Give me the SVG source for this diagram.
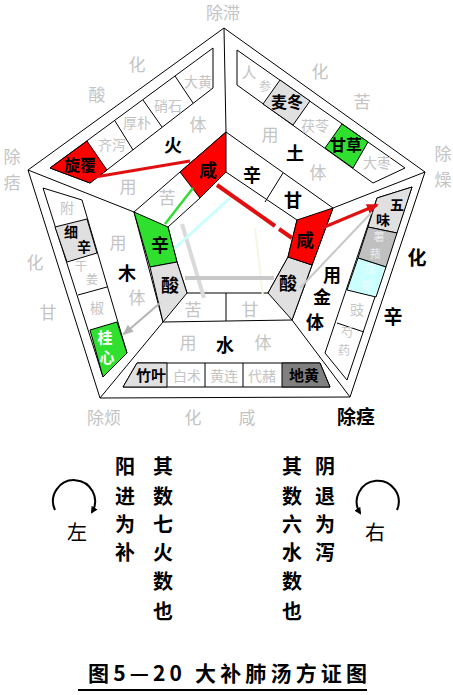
<svg xmlns="http://www.w3.org/2000/svg" width="453" height="695" viewBox="0 0 453 695">
<style>
text{font-family:"Noto Sans CJK SC","Noto Sans",sans-serif;text-anchor:middle}
.k{fill:#000;font-weight:700}
.g{fill:#c4c4c4}
.w{fill:#fff;font-weight:700}
.s11{font-size:11px}.s12{font-size:12px}.s13{font-size:13px}.s14{font-size:14px}.s15{font-size:15px}.s16{font-size:16px}.s17{font-size:17px}.s18{font-size:18px}.s19{font-size:19px}.s20{font-size:20px}
.ln{fill:none;stroke:#000;stroke-width:1}
.c{stroke:#000;stroke-width:1}
.red{fill:#ff0000}.grn{fill:#2fe02f}.lg{fill:#e0e0e0}.mg{fill:#c0c0c0}.dg{fill:#808080}.cy{fill:#ccffff}.wh{fill:#fff}
</style>
<defs>
<marker id="ar" markerWidth="12" markerHeight="10" refX="10" refY="5" orient="auto" markerUnits="userSpaceOnUse"><path d="M0,0 L12,5 L0,10 z" fill="#e01010"/></marker>
<marker id="ag" markerWidth="11" markerHeight="9" refX="9" refY="4.5" orient="auto" markerUnits="userSpaceOnUse"><path d="M0,0 L11,4.5 L0,9 z" fill="#b4b4b4"/></marker>
<marker id="ak" markerWidth="7" markerHeight="7" refX="5" refY="3.5" orient="auto" markerUnits="userSpaceOnUse"><path d="M0,0 L7,3.5 L0,7 z" fill="#000"/></marker>
</defs>
<rect width="453" height="695" fill="#fff"/>

<g id="frame">
<polygon class="ln" points="28,170 224,28 425,172 350,397 100,398"/>
<polygon class="ln" points="134,212 226,132 333,208 292,320 163,322"/>
<line class="ln" x1="224" y1="28" x2="226" y2="132"/>
<line class="ln" x1="28" y1="170" x2="134" y2="212"/>
<line class="ln" x1="425" y1="172" x2="333" y2="208"/>
<line class="ln" x1="350" y1="397" x2="292" y2="320"/>
<line class="ln" x1="100" y1="398" x2="163" y2="322"/>
</g>

<g id="fire">
<polygon class="ln" points="50,168 213,48 213,88 90,183"/>
<polygon class="c red" points="50,168 87,141 107,170 90,183"/>
<line class="ln" x1="115" y1="121" x2="133" y2="150"/>
<line class="ln" x1="143" y1="100" x2="162" y2="127"/>
<line class="ln" x1="175" y1="76" x2="193" y2="103"/>
<text class="k s16" x="80" y="170.5">旋覆</text>
<text class="g s14" x="112" y="150">齐泻</text>
<text class="g s14" x="137" y="128">厚朴</text>
<text class="g s14" x="168" y="111">硝石</text>
<text class="g s14" x="198" y="87">大黄</text>
<text class="k s18" x="173" y="151.5">火</text>
<text class="g s17" x="198" y="131">体</text>
<text class="g s17" x="128" y="193">用</text>
</g>

<g id="earth">
<polygon class="ln" points="237,50 405,168 373,183 237,85"/>
<polygon class="c lg" points="263,104 280,80 310,101 293,125"/>
<polygon class="c grn" points="325,148 342,124 368,142 353,168"/>
<text class="g s15"><tspan x="249" y="78">人</tspan><tspan class="s12" x="265" y="91">参</tspan></text>
<text class="k s16" x="287" y="107.5">麦冬</text>
<text class="g s14" x="315" y="131">茯苓</text>
<text class="k s16" x="346" y="150.5">甘草</text>
<text class="g s14" x="377" y="168">大枣</text>
<text class="k s18" x="295" y="159.5">土</text>
<text class="g s17" x="270" y="141">用</text>
<text class="g s17" x="318" y="179">体</text>
</g>

<g id="metal">
<polygon class="ln" points="377,198 412,187 347,380 325,353"/>
<polygon class="c lg" points="377,198 412,187 397,233 368,227"/>
<polygon class="c mg" points="368,227 397,233 386,267 358,258"/>
<polygon class="c cy" points="358,258 386,267 376,297 347,290"/>
<line class="ln" x1="337" y1="323" x2="364" y2="332"/>
<text class="k s14"><tspan x="397" y="210">五</tspan><tspan x="383" y="225">味</tspan></text>
<text class="s11" fill="#ececec"><tspan x="379" y="241">薯</tspan><tspan x="375" y="258">蓣</tspan></text>
<text class="s11" fill="#eefcfc"><tspan x="370" y="273">茯</tspan><tspan x="366" y="290">苓</tspan></text>
<text class="g s14" x="357" y="315">豉</text>
<text class="g s12"><tspan x="347" y="336.5">芍</tspan><tspan x="344" y="354.5">药</tspan></text>
<text class="k s18" x="332" y="281.5">用</text>
<text class="k s18" x="322" y="303.5">金</text>
<text class="k s18" x="315" y="328.5">体</text>
</g>

<g id="water">
<polygon class="ln" points="137,363 320,363 330,387 123,387"/>
<polygon class="c lg" points="137,363 167,363 167,387 123,387"/>
<polygon class="c dg" points="282,363 320,363 330,387 282,387"/>
<line class="ln" x1="205" y1="363" x2="205" y2="387"/>
<line class="ln" x1="243" y1="363" x2="243" y2="387"/>
<text class="k s15" x="151" y="381">竹叶</text>
<text class="g s14" x="187" y="381">白术</text>
<text class="g s14" x="224" y="381">黄连</text>
<text class="g s14" x="262" y="381">代赭</text>
<text class="k s15" x="304" y="381">地黄</text>
<text class="k s18" x="225" y="351.5">水</text>
<text class="g s17" x="188" y="349">用</text>
<text class="g s17" x="263" y="349">体</text>
</g>

<g id="wood">
<polygon class="ln" points="43,188 82,200 127,353 103,377"/>
<polygon class="c lg" points="55,227 87,219 97,253 67,262"/>
<polygon class="c grn" points="90,330 117,322 127,353 103,377"/>
<line class="ln" x1="78" y1="295" x2="107" y2="287"/>
<text class="g s14" x="67" y="213">附</text>
<text class="k s14"><tspan x="71" y="237">细</tspan><tspan x="84" y="252">辛</tspan></text>
<text class="g s12"><tspan x="81" y="271">干</tspan><tspan x="92" y="284">姜</tspan></text>
<text class="g s14" x="97" y="313">椒</text>
<text class="w s15"><tspan x="105" y="342.5">桂</tspan><tspan x="107" y="362.5">心</tspan></text>
<text class="k s18" x="127" y="279.5">木</text>
<text class="g s17" x="118" y="249">用</text>
<text class="g s17" x="137" y="304">体</text>
</g>

<g id="tastes">
<polygon class="ln" points="226,172 297,220 288,257 268,293 187,293 177,262 168,227 200,198"/>
<polygon class="c red" points="180,172 226,132 226,172 200,198"/>
<polygon class="c grn" points="134,212 168,227 177,262 150,267"/>
<polygon class="c lg" points="150,267 177,262 187,293 163,322"/>
<polygon class="c lg" points="268,293 288,257 312,265 292,320"/>
<polygon class="c red" points="288,257 297,220 333,208 312,265"/>
<line class="ln" x1="283" y1="173" x2="265" y2="202"/>
<line class="ln" x1="226" y1="293" x2="226" y2="321"/>
<text class="k s18" x="208" y="176.5">咸</text>
<text class="k s18" x="252" y="181.5">辛</text>
<text class="k s18" x="293" y="206.5">甘</text>
<text class="k s18" x="305" y="246.5">咸</text>
<text class="k s18" x="288" y="289.5">酸</text>
<text class="k s18" x="170" y="291.5">酸</text>
<text class="k s18" x="160" y="251.5">辛</text>
<text class="g s17" x="167" y="204">苦</text>
<text class="g s17" x="193" y="316">苦</text>
<text class="g s17" x="250" y="316">甘</text>
</g>

<g id="outer-labels">
<text class="g s17" x="223" y="19">除滞</text>
<text class="g s17" x="137" y="71">化</text>
<text class="g s17" x="97" y="101">酸</text>
<text class="g s17"><tspan x="12" y="163">除</tspan><tspan x="12" y="189">痞</tspan></text>
<text class="g s17" x="320" y="78">化</text>
<text class="g s17" x="362" y="108">苦</text>
<text class="g s17"><tspan x="443" y="160">除</tspan><tspan x="443" y="186">燥</tspan></text>
<text class="g s17" x="35" y="269">化</text>
<text class="g s17" x="48" y="319">甘</text>
<text class="g s17" x="104" y="424">除烦</text>
<text class="g s17" x="193" y="424">化</text>
<text class="g s17" x="247" y="424">咸</text>
<text class="k s19" x="417" y="265">化</text>
<text class="k s19" x="393" y="324">辛</text>
<text class="k s19" x="356" y="424">除痉</text>
</g>

<g id="connectors">
<line x1="255" y1="228" x2="263" y2="296" stroke="#f6f6e2" stroke-width="2"/>
<line x1="182" y1="224" x2="204" y2="298" stroke="#dadada" stroke-width="4"/>
<line x1="185" y1="278" x2="274" y2="278" stroke="#c8c8c8" stroke-width="4"/>
<line x1="175" y1="248" x2="232" y2="196" stroke="#c8ffff" stroke-width="3"/>
<line x1="165" y1="224" x2="193" y2="188" stroke="#33dd33" stroke-width="2.5"/>
<line x1="300" y1="288" x2="372" y2="212" stroke="#c8c8c8" stroke-width="2"/>
<line x1="160" y1="303" x2="124" y2="334" stroke="#b4b4b4" stroke-width="2" marker-end="url(#ag)"/>
<line x1="95" y1="177" x2="190" y2="161" stroke="#e01010" stroke-width="3"/>
<line x1="217" y1="185" x2="275" y2="226" stroke="#e01010" stroke-width="4"/>
<line x1="279" y1="229" x2="292" y2="238" stroke="#e01010" stroke-width="4"/>
<line x1="322" y1="228" x2="377" y2="205" stroke="#e01010" stroke-width="3" marker-end="url(#ar)"/>
</g>

<g id="notes">
<path d="M55,510 A21,21 0 1 1 92,512" fill="none" stroke="#000" stroke-width="2" marker-end="url(#ak)"/>
<path d="M397,510 A21,21 0 1 0 360,513" fill="none" stroke="#000" stroke-width="2" marker-end="url(#ak)"/>
<text class="s20" x="77" y="540">左</text>
<text class="s20" x="375" y="540">右</text>
<text class="k s20"><tspan x="125" y="474">阳</tspan><tspan x="125" y="504">进</tspan><tspan x="125" y="532">为</tspan><tspan x="125" y="560">补</tspan></text>
<text class="k s20"><tspan x="163" y="474">其</tspan><tspan x="163" y="504">数</tspan><tspan x="163" y="532">七</tspan><tspan x="163" y="560">火</tspan><tspan x="163" y="589">数</tspan><tspan x="163" y="619">也</tspan></text>
<text class="k s20"><tspan x="292" y="474">其</tspan><tspan x="292" y="504">数</tspan><tspan x="292" y="532">六</tspan><tspan x="292" y="560">水</tspan><tspan x="292" y="589">数</tspan><tspan x="292" y="619">也</tspan></text>
<text class="k s20"><tspan x="325" y="474">阴</tspan><tspan x="325" y="504">退</tspan><tspan x="325" y="532">为</tspan><tspan x="325" y="560">泻</tspan></text>
</g>

<g id="title">
<text class="k" style="font-size:21px;text-anchor:start" x="88" y="681" textLength="279" lengthAdjust="spacing">图5—20 大补肺汤方证图</text>
<line x1="78" y1="690" x2="367" y2="690" stroke="#000" stroke-width="2"/>
</g>
</svg>
